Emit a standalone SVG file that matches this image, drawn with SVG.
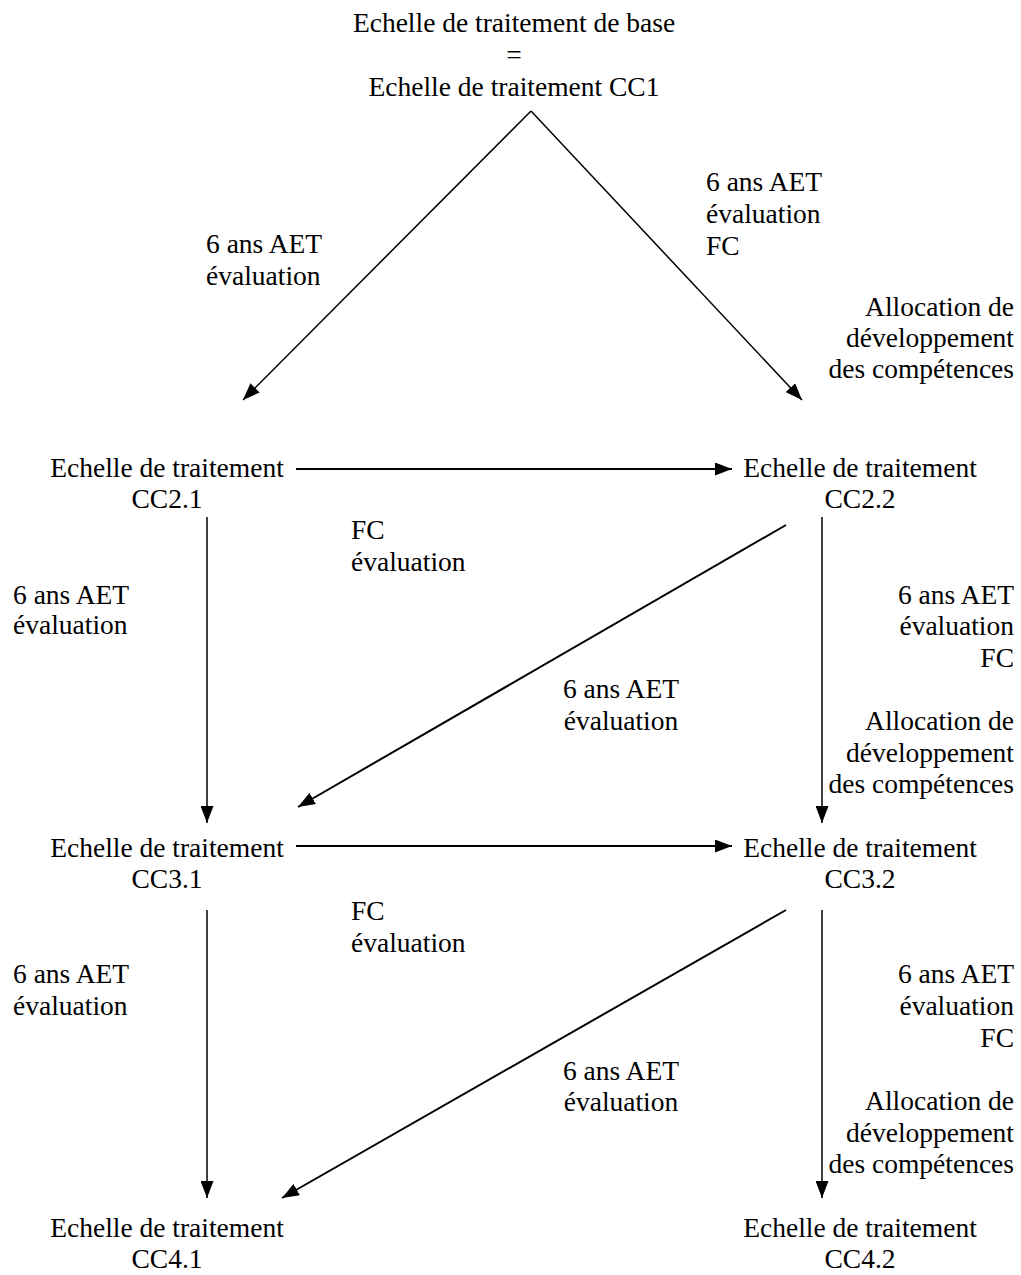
<svg xmlns="http://www.w3.org/2000/svg" width="1021" height="1275" viewBox="0 0 1021 1275" font-family="'Liberation Serif', Tinos, 'DejaVu Serif', serif">
<style>
text{font-family:"Liberation Serif",Tinos,"DejaVu Serif",serif;font-size:27.5px;fill:#000}
.m{text-anchor:middle}
.r{text-anchor:end}
.c line{stroke:#000;stroke-width:1.5}
.c line.h{stroke-width:2}
</style>
<defs>
<marker id="a" viewBox="0 0 17 13" refX="17" refY="6.5" markerWidth="17" markerHeight="13" markerUnits="userSpaceOnUse" orient="auto">
<path d="M0,0 L17,6.5 L0,13 z" fill="#000"/>
</marker>
</defs>
<rect width="1021" height="1275" fill="#fff"/>
<g id="cc1">
<text class="m" x="514" y="32">Echelle de traitement de base</text>
<text class="m" x="514" y="64">=</text>
<text class="m" x="514" y="96">Echelle de traitement CC1</text>
</g>
<g id="cc21"><text class="m" x="167" y="477">Echelle de traitement</text><text class="m" x="167" y="508">CC2.1</text></g>
<g id="cc22"><text class="m" x="860" y="477">Echelle de traitement</text><text class="m" x="860" y="508">CC2.2</text></g>
<g id="cc31"><text class="m" x="167" y="857">Echelle de traitement</text><text class="m" x="167" y="888">CC3.1</text></g>
<g id="cc32"><text class="m" x="860" y="857">Echelle de traitement</text><text class="m" x="860" y="888">CC3.2</text></g>
<g id="cc41"><text class="m" x="167" y="1237">Echelle de traitement</text><text class="m" x="167" y="1268">CC4.1</text></g>
<g id="cc42"><text class="m" x="860" y="1237">Echelle de traitement</text><text class="m" x="860" y="1268">CC4.2</text></g>
<g class="c" id="connectors">
<line x1="531" y1="111" x2="243" y2="400" marker-end="url(#a)"/>
<line x1="531" y1="111" x2="802" y2="400" marker-end="url(#a)"/>
<line class="h" x1="296" y1="469" x2="732" y2="469" marker-end="url(#a)"/>
<line x1="207" y1="517" x2="207" y2="823" marker-end="url(#a)"/>
<line x1="822" y1="517" x2="822" y2="823" marker-end="url(#a)"/>
<line class="h" x1="786" y1="525" x2="298" y2="807" marker-end="url(#a)"/>
<line class="h" x1="296" y1="846" x2="732" y2="846" marker-end="url(#a)"/>
<line x1="207" y1="910" x2="207" y2="1198" marker-end="url(#a)"/>
<line x1="822" y1="910" x2="822" y2="1198" marker-end="url(#a)"/>
<line class="h" x1="786" y1="910" x2="282" y2="1198" marker-end="url(#a)"/>
</g>
<g id="labels">
<text x="206" y="253">6 ans AET</text><text x="206" y="285">évaluation</text>
<text x="706" y="191">6 ans AET</text><text x="706" y="223">évaluation</text><text x="706" y="255">FC</text>
<text class="r" x="1014" y="316">Allocation de</text><text class="r" x="1014" y="347">développement</text><text class="r" x="1014" y="378">des compétences</text>
<text x="351" y="539">FC</text><text x="351" y="571">évaluation</text>
<text x="13" y="604">6 ans AET</text><text x="13" y="634">évaluation</text>
<text class="m" x="621" y="698">6 ans AET</text><text class="m" x="621" y="730">évaluation</text>
<text class="r" x="1014" y="604">6 ans AET</text><text class="r" x="1014" y="635">évaluation</text><text class="r" x="1014" y="667">FC</text>
<text class="r" x="1014" y="730">Allocation de</text><text class="r" x="1014" y="762">développement</text><text class="r" x="1014" y="793">des compétences</text>
<text x="351" y="920">FC</text><text x="351" y="952">évaluation</text>
<text x="13" y="983">6 ans AET</text><text x="13" y="1015">évaluation</text>
<text class="m" x="621" y="1080">6 ans AET</text><text class="m" x="621" y="1111">évaluation</text>
<text class="r" x="1014" y="983">6 ans AET</text><text class="r" x="1014" y="1015">évaluation</text><text class="r" x="1014" y="1047">FC</text>
<text class="r" x="1014" y="1110">Allocation de</text><text class="r" x="1014" y="1142">développement</text><text class="r" x="1014" y="1173">des compétences</text>
</g>
</svg>
